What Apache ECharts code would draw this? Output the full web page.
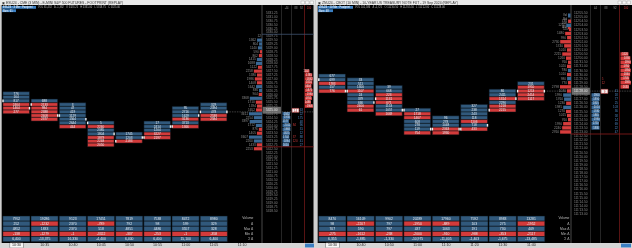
<!DOCTYPE html>
<html><head><meta charset="utf-8">
<style>html,body{margin:0;padding:0;background:#cfcfcf;}#c{width:632px;height:248px;}</style>
<script src="https://cdn.jsdelivr.net/npm/echarts@6/dist/echarts.min.js"></script>
</head><body><div id="c"></div>
<script>
// ---------------- LEFT PANEL DATA ----------------
const L_fpStart = [0, 2, 3, 8, 11, 8, 4, 3];
const L_fpVals = [[776,164,817,2464,1464,277],[688,2133,984,2388,2408,2377],[3,47,419,1129,1564,2644,444],[5,2240,2385,1804,1879,2248,2050],[1745,1203,2183],[17,2414,1204,3227,2197],[95,2716,1629,3136,3713,1366],[329,2394,478,2538,2584]];
const L_fpSide = ['bbbrrr','brrrrr','bbbbbbr','brbbrrr','bbr','bbbrr','bbbrbr','bbbrr'];
const L_open = [2, 3, 6, 8, 13, 12, 9, 5];
const L_close = [4, 6, 7, 11, 12, 9, 6, 5];
const L_times = ['10:30','10:35','10:40','10:45','10:50','10:55','11:00','11:05','11:10'];
const L_tblVolume = [7952, 19286, 9123, 17451, 7819, 7538, 8472, 8980];
const L_tblDelta = [252, -1232, 2370, -789, 792, 98, 599, 329];
const L_tblMaxD = [4852, 1833, 2370, 518, 4851, 4486, 3557, 328];
const L_tblMinD = [-138, -1279, -1, -3322, -337, -253, -1, -358];
const L_tblCum = [6400, -13375, 16330, -4400, 6400, 6400, 15100, 6400];
const L_prices = ['5331.25','5331.00','5330.75','5330.50','5330.25','5330.00','5329.75','5329.50','5329.25','5329.00','5328.75','5328.50','5328.25','5328.00','5327.75','5327.50','5327.25','5327.00','5326.75','5326.50','5326.25','5326.00','5325.75','5325.50','5325.25','5325.00','5324.75','5324.50','5324.25','5324.00','5323.75','5323.50','5323.25','5323.00','5322.75','5322.50','5322.25','5322.00','5321.75','5321.50','5321.25','5321.00','5320.75','5320.50','5320.25','5320.00','5319.75','5319.50','5319.25','5319.00','5318.75','5318.50'];
const L_curRow = 25;
const L_profStart = 6;
const L_profVol = [12,1362,804,1140,590,862,1415,1688,1122,2258,1380,1986,1408,1642,836,904,3368,1710,1394,1652,3611,2254,3397,1712,876,1405,3607,2260,1433,2253];
const L_profSide = 'bbbbrrbbrrrrrbbrbrrrbbbbrrbbrr';
const L_bidStart = 26;
const L_bidVol = [1842,1930,1577,2011,1968,1825,1702,1894,1650];
const L_askStart = 15;
const L_askVol = [1102,1785,1932,1810,1604,1875,1990,1701,1488,1966];
const L_blueNumStart = 25;
const L_blueNums = [63,22,175,48,96,31,12,88,41,27];
const L_redNumRows = [29,32,33];
const L_redNums = [84,37,120];
const L_lastSize = 14;
const L_hiRow = 6, L_loRow = 34;

// ---------------- RIGHT PANEL DATA ----------------
const R_fpStart = [0, 1, 3, 9, 11, 8, 4, 2];
const R_fpVals = [[677,699,1783,157,776],[33,511,1300,1107,24,379,666,2400,61],[39,668,223,1131,671,1153,1057,1669],[27,1718,1467,608,278,119,754],[96,278,1048,2363,1930],[327,238,243,118,1106,718,433],[86,2411,1314,2296,1218,2215],[231,1910,1213,2414,1117]];
const R_fpSide = ['bbrbr','bbbrbbbrr','bbrrrbbr','brrbbbr','bbbrr','bbbbrbr','bbrbrr','brrrr'];
const R_open = [1, 4, 6, 9, 14, 14, 9, 4];
const R_close = [4, 7, 9, 14, 14, 13, 6, 4];
const R_times = ['10:30','10:40','10:50','11:00','11:10','11:20','11:30','11:40',''];
const R_tblVolume = [8470, 16109, 9902, 20289, 17960, 7592, 8983, 13281];
const R_tblDelta = [98, -2207, 797, -1950, -889, 103, 275, -1952];
const R_tblMaxD = [707, 590, 797, 437, 1063, 191, 730, 409];
const R_tblMinD = [-275, -1612, -238, -2000, -910, -988, -353, -2117];
const R_tblCum = [6355, -1885, -1330, -10975, -11405, -1403, -1675, -13485];
const R_prices = ["112'05.50","112'05.00","112'04.50","112'04.00","112'03.50","112'03.00","112'02.50","112'02.00","112'01.50","112'01.00","112'00.50","112'00.00","111'31.50","111'31.00","111'30.50","111'30.00","111'29.50","111'29.00","111'28.50","111'28.00","111'27.50","111'27.00","111'26.50","111'26.00","111'25.50","111'25.00","111'24.50","111'24.00","111'23.50","111'23.00","111'22.50","111'22.00","111'21.50","111'21.00","111'20.50","111'20.00","111'19.50","111'19.00","111'18.50","111'18.00","111'17.50","111'17.00","111'16.50","111'16.00","111'15.50","111'15.00","111'14.50","111'14.00","111'13.50","111'13.00"];
const R_curRow = 19;
const R_profStart = 2;
const R_profVol = [740,1210,520,1480,990,2730,1740,1010,2215,1260,760,1020,780,1010,980,770,2798,1030,1990,1760,1230,1985,1270,1015,760,1990,2240,2760];
const R_profSide = 'rbrrrrrrrrrrbrbrrrbbrbrrrrrr';
const R_bidStart = 20;
const R_bidVol = [1960,1890,1805,2010,1930,1865,1990,1740,1880];
const R_askStart = 10;
const R_askVol = [1520,1880,1990,1760,1950,1840,1705,1985,1630];
const R_blueNumStart = 19;
const R_blueNums = [41,18,77,25,103,36,58,14,69,22,47];
const R_redNumRows = [17,16];
const R_redNums = [12,5];
const R_lastSize = 9;
const R_hiRow = null, R_loRow = 29;

const TBL_ROWS = ['Volume','Δ','Max Δ','Min Δ','Σ Δ'];

// ---------------- BUILD ----------------
const BLUE = '#31597c', RED = '#d33b3b', PBLUE = '#3a6894', PRED = '#d63c3c';
const FONT = 'Liberation Sans';
const grids = [], xAxes = [], yAxes = [], series = [];
function addGrid(rect, xa, ya) {
  const gi = grids.length;
  grids.push(Object.assign({show:false, outerBoundsMode:'none'}, rect));
  xAxes.push(Object.assign({gridIndex:gi, show:false}, xa));
  yAxes.push(Object.assign({gridIndex:gi, show:false}, ya));
  return gi;
}
function txt(t, x, y, fill, size, align) {
  return {type:'text', style:{text:t, x:x, y:y, fill:fill, fontSize:size, fontFamily:FONT, align:align||'left', verticalAlign:'middle', textAlign:align||'left', textVerticalAlign:'middle'}};
}

function panel(P, G) {
  // footprint
  const fpData = [];
  P.fpVals.forEach((col, c) => col.forEach((v, k) => fpData.push([c, P.fpStart[c] + k, v, P.fpSide[c][k] === 'r' ? 1 : 0])));
  const gF = addGrid({left:G.left, top:G.fpTop, width:9*G.colW, height:16*G.fpRowH},
    {type:'value', min:0, max:9}, {type:'value', min:0, max:16, inverse:true});
  series.push({type:'custom', xAxisIndex:gF, yAxisIndex:gF, data:fpData, encode:{x:0, y:1}, z:3,
    renderItem:(params, api) => {
      const c = api.value(0), r = api.value(1), v = api.value(2), s = api.value(3);
      const a = api.coord([c, r]), b = api.coord([c + 1, r + 1]);
      const x = a[0] + 0.4, w = b[0] - a[0] - 1.6, y = a[1], h = b[1] - a[1];
      return {type:'group', children:[
        {type:'rect', shape:{x:x, y:y, width:w, height:h}, style:{fill: s ? RED : BLUE, stroke:'#0b1117', lineWidth:0.5}},
        {type:'text', style:{text:String(v), x:x + w/2, y:y + h/2 + 0.2, fill:'#e6ecf2', fontSize:3.1, fontFamily:FONT, align:'center', verticalAlign:'middle'}}
      ]};
    }});
  const mk = [];
  P.open.forEach((r, c) => mk.push([c, r, 0]));
  P.close.forEach((r, c) => mk.push([c, r, 1]));
  series.push({type:'custom', xAxisIndex:gF, yAxisIndex:gF, data:mk, encode:{x:0, y:1}, z:4,
    renderItem:(params, api) => {
      const c = api.value(0), r = api.value(1), side = api.value(2);
      const a = api.coord([c, r]), b = api.coord([c + 1, r + 1]);
      const h = (b[1] - a[1]) * 0.7;
      const x = side ? b[0] - 1.9 : a[0] - 0.2;
      return {type:'rect', shape:{x:x, y:(a[1] + b[1]) / 2 - h/2, width:1.4, height:h}, style:{fill:'#eeeeee'}};
    }});
  const last = P.fpVals.length;
  series.push({type:'custom', xAxisIndex:gF, yAxisIndex:gF, data:[[last, P.close[last - 1]]], encode:{x:0, y:1}, z:2,
    renderItem:(params, api) => {
      const a = api.coord([api.value(0), api.value(1) + 0.5]);
      return {type:'line', shape:{x1:a[0] - 1.2, y1:a[1], x2:G.lineEnd, y2:a[1]}, style:{stroke:'#6a6a6a', lineWidth:0.6, lineDash:[1.5, 1]}};
    }});

  // table
  const tRows = [P.tblVolume, P.tblDelta, P.tblMaxD, P.tblMinD, P.tblCum];
  const tData = [];
  tRows.forEach((row, r) => row.forEach((v, c) => tData.push([c, r, v])));
  const gT = addGrid({left:G.left, top:216, width:9*G.colW, height:25.7},
    {type:'category', data:P.times, show:true, z:5, axisLine:{show:false}, axisTick:{show:false},
      axisLabel:{interval:0, margin:1.4, color:'#2a2a2a', fontSize:3.6, fontFamily:FONT,
        formatter:(v, i) => i === 0 ? '{hl|' + v + '}' : v,
        rich:{hl:{backgroundColor:'#f7f7f7', borderColor:'#6f6f6f', borderWidth:0.5, padding:[0.3, 2], fontSize:3.6, color:'#222', fontFamily:FONT}}}},
    {type:'category', data:TBL_ROWS, inverse:true, show:true, position:'right', z:5, axisLine:{show:false}, axisTick:{show:false},
      axisLabel:{inside:true, interval:0, hideOverlap:false, margin:G.tblLabelMargin, color:'#bdbdbd', fontSize:3.3, fontFamily:FONT}});
  series.push({type:'custom', xAxisIndex:gT, yAxisIndex:gT, data:tData, encode:{x:0, y:1}, z:3,
    renderItem:(params, api) => {
      const c = api.value(0), r = api.value(1), v = api.value(2);
      const p = api.coord([c, r]), sz = api.size([1, 1]);
      const x = p[0] - sz[0]/2 + 0.3, w = sz[0] - 1.0, y = p[1] - sz[1]/2, h = sz[1];
      const red = (r === 1 || r === 3) && v < 0;
      const t = r === 4 ? v.toLocaleString('en-US') : String(v);
      return {type:'group', children:[
        {type:'rect', shape:{x:x, y:y, width:w, height:h}, style:{fill: red ? RED : BLUE, stroke:'#0b1117', lineWidth:0.5}},
        {type:'text', style:{text:t, x:x + w/2, y:y + h/2 + 0.2, fill:'#e6ecf2', fontSize:3.4, fontFamily:FONT, align:'center', verticalAlign:'middle'}}
      ]};
    }});

  // DOM
  const n = P.prices.length;
  const domTop = 11, domH = n * G.rowH;
  const yCat = {type:'category', data:P.prices, inverse:true};
  // profile
  const gP = addGrid({left:G.domX - 30, top:domTop, width:30, height:domH}, {type:'value', min:0, max:G.profMax, inverse:true}, yCat);
  const prof = P.prices.map(() => '-');
  P.profVol.forEach((v, k) => { prof[P.profStart + k] = {value:v, itemStyle:{color: P.profSide[k] === 'r' ? PRED : PBLUE}}; });
  series.push({type:'bar', xAxisIndex:gP, yAxisIndex:gP, data:prof, barWidth:G.rowH - 0.7, z:3,
    label:{show:true, position:'left', distance:1, fontSize:3.2, color:'#8d8d8d', fontFamily:FONT}});
  // ladder
  const gL = addGrid({left:G.domX, top:domTop, width:19.5, height:domH}, {type:'value', min:0, max:1}, yCat);
  series.push({type:'custom', xAxisIndex:gL, yAxisIndex:gL, data:P.prices.map((p, i) => [0.5, i]), encode:{x:0, y:1}, z:3,
    renderItem:(params, api) => {
      const i = params.dataIndex;
      const p = api.coord([0.5, i]), h = api.size([0, 1])[1], cs = params.coordSys;
      const ch = [];
      if (i === P.curRow) ch.push({type:'rect', shape:{x:cs.x + 0.8, y:p[1] - h/2 - 1.2, width:cs.width - 1.4, height:h + 3}, style:{fill:'#6b6b6b'}});
      ch.push({type:'text', style:{text:P.prices[i], x:p[0], y:p[1] + 0.2, fill: i === P.curRow ? '#e8e8e8' : '#8e8e8e', fontSize:3.2, fontFamily:FONT, align:'center', verticalAlign:'middle'}});
      return {type:'group', children:ch};
    }});
  // bid
  const gB = addGrid({left:G.domX + 20.5, top:domTop, width:G.bidW, height:domH}, {type:'value', min:0, max:2100}, yCat);
  const bid = P.prices.map(() => '-');
  P.bidVol.forEach((v, k) => { bid[P.bidStart + k] = v; });
  series.push({type:'bar', xAxisIndex:gB, yAxisIndex:gB, data:bid, barWidth:G.rowH - 0.5, itemStyle:{color:'#3a6a98'}, z:3,
    label:{show:true, position:'insideRight', distance:0.5, fontSize:2.6, color:'#cfe0f0', fontFamily:FONT}});
  // numbers
  const gN = addGrid({left:G.numX, top:domTop, width:G.numW, height:domH}, {type:'value', min:0, max:1}, yCat);
  const nd = [];
  P.blueNums.forEach((v, k) => nd.push([0, P.blueNumStart + k, v, 0]));
  P.redNumRows.forEach((r, k) => nd.push([0, r, P.redNums[k], 1]));
  nd.push([0, P.curRow, P.lastSize, 2]);
  series.push({type:'custom', xAxisIndex:gN, yAxisIndex:gN, data:nd, encode:{x:0, y:1}, z:3,
    renderItem:(params, api) => {
      const r = api.value(1), v = api.value(2), k = api.value(3), cs = params.coordSys;
      const p = api.coord([0, r]), h = api.size([0, 1])[1];
      if (k === 0) return {type:'text', style:{text:String(v), x:cs.x + cs.width - 1.5, y:p[1] + 0.2, fill:'#4f86c0', fontSize:3, fontFamily:FONT, align:'right', verticalAlign:'middle'}};
      if (k === 1) return {type:'text', style:{text:String(v), x:cs.x + 1.2, y:p[1] + 0.2, fill:'#c83a3a', fontSize:3, fontFamily:FONT, align:'left', verticalAlign:'middle'}};
      return {type:'group', children:[
        {type:'rect', shape:{x:cs.x + 0.6, y:p[1] - h/2 + 0.4, width:6.8, height:h}, style:{fill:'#f2f2f2', stroke:'#d33b3b', lineWidth:0.5}},
        {type:'text', style:{text:String(v), x:cs.x + 4, y:p[1] + 0.9, fill:'#c62f2f', fontSize:3, fontFamily:FONT, align:'center', verticalAlign:'middle'}}]};
    }});
  // ask
  const gA = addGrid({left:G.askX, top:domTop, width:G.askW, height:domH}, {type:'value', min:0, max:2100}, yCat);
  const ask = P.prices.map(() => '-');
  P.askVol.forEach((v, k) => { ask[P.askStart + k] = v; });
  series.push({type:'bar', xAxisIndex:gA, yAxisIndex:gA, data:ask, barWidth:G.rowH - 0.5, itemStyle:{color:PRED}, z:3,
    label:{show:true, position:'insideRight', distance:0.5, fontSize:2.6, color:'#fbe3e3', fontFamily:FONT}});
  // hi/lo lines
  const gO = addGrid({left:G.domX, top:domTop, width:G.panelRight - G.domX, height:domH}, {type:'value', min:0, max:1}, yCat);
  const od = [];
  if (P.hiRow !== null) od.push([0, P.hiRow, 0]);
  if (P.loRow !== null) od.push([0, P.loRow, 1]);
  series.push({type:'custom', xAxisIndex:gO, yAxisIndex:gO, data:od, encode:{x:0, y:1}, z:4,
    renderItem:(params, api) => {
      const r = api.value(1), k = api.value(2), cs = params.coordSys;
      const p = api.coord([0, r]), h = api.size([0, 1])[1];
      const y = k ? p[1] + h/2 : p[1] - h/2;
      return {type:'line', shape:{x1:cs.x, y1:y, x2:cs.x + cs.width, y2:y}, style:{stroke: k ? '#8e1c1c' : '#3f5270', lineWidth:0.8}};
    }});
}

panel({fpStart:L_fpStart, fpVals:L_fpVals, fpSide:L_fpSide, open:L_open, close:L_close, times:L_times,
  tblVolume:L_tblVolume, tblDelta:L_tblDelta, tblMaxD:L_tblMaxD, tblMinD:L_tblMinD, tblCum:L_tblCum,
  prices:L_prices, curRow:L_curRow, profStart:L_profStart, profVol:L_profVol, profSide:L_profSide,
  bidStart:L_bidStart, bidVol:L_bidVol, askStart:L_askStart, askVol:L_askVol,
  blueNumStart:L_blueNumStart, blueNums:L_blueNums, redNumRows:L_redNumRows, redNums:L_redNums, lastSize:L_lastSize,
  hiRow:L_hiRow, loRow:L_loRow},
  {left:2.5, colW:28.2, fpTop:91.7, fpRowH:3.67, lineEnd:313.5, tblLabelMargin:3, rowH:3.88, domX:262, profMax:8300,
   bidW:8.5, numX:291.5, numW:13, askX:305, askW:8.5, panelRight:313.5});

panel({fpStart:R_fpStart, fpVals:R_fpVals, fpSide:R_fpSide, open:R_open, close:R_close, times:R_times,
  tblVolume:R_tblVolume, tblDelta:R_tblDelta, tblMaxD:R_tblMaxD, tblMinD:R_tblMinD, tblCum:R_tblCum,
  prices:R_prices, curRow:R_curRow, profStart:R_profStart, profVol:R_profVol, profSide:R_profSide,
  bidStart:R_bidStart, bidVol:R_bidVol, askStart:R_askStart, askVol:R_askVol,
  blueNumStart:R_blueNumStart, blueNums:R_blueNums, redNumRows:R_redNumRows, redNums:R_redNums, lastSize:R_lastSize,
  hiRow:R_hiRow, loRow:R_loRow},
  {left:318.3, colW:28.4, fpTop:74, fpRowH:3.8, lineEnd:632, tblLabelMargin:4.5, rowH:4.1, domX:571, profMax:7600,
   bidW:9, numX:600.5, numW:19, askX:620.5, askW:11, panelRight:632});

// ---------------- CHROME ----------------
function vline(x, c) { return {type:'line', shape:{x1:x, y1:5, x2:x, y2:243}, style:{stroke:c, lineWidth:0.8}}; }
const graphic = [
  {type:'rect', shape:{x:2, y:5, width:311.5, height:238}, style:{fill:'#000'}},
  {type:'rect', shape:{x:318, y:5, width:314, height:238}, style:{fill:'#000'}},
  {type:'line', shape:{x1:1.5, y1:5, x2:1.5, y2:243}, style:{stroke:'#8c8c8c', lineWidth:1}},
  {type:'line', shape:{x1:317.5, y1:5, x2:317.5, y2:243}, style:{stroke:'#8c8c8c', lineWidth:1}},
  {type:'rect', shape:{x:0, y:0, width:315, height:5}, style:{fill:'#e9e9e9'}},
  {type:'rect', shape:{x:316, y:0, width:316, height:5}, style:{fill:'#e9e9e9'}},
  txt('▣ ESU24 - CME (3 MIN) - E-MINI S&P 500 FUTURES - FOOTPRINT (REPLAY)', 2, 2.6, '#333', 3.4),
  txt('▣ ZNU24 - CBOT (10 MIN) - 10-YEAR US TREASURY NOTE FUT - 19 Sep 2024 (REPLAY)', 318, 2.6, '#333', 3.4),
  {type:'rect', shape:{x:301, y:1, width:3.5, height:3}, style:{fill:'#f8f8f8', stroke:'#999', lineWidth:0.4}},
  {type:'rect', shape:{x:305.5, y:1, width:3.5, height:3}, style:{fill:'#f8f8f8', stroke:'#999', lineWidth:0.4}},
  {type:'rect', shape:{x:310, y:1, width:3.5, height:3}, style:{fill:'#f8f8f8', stroke:'#999', lineWidth:0.4}},
  {type:'rect', shape:{x:618, y:1, width:3.5, height:3}, style:{fill:'#f8f8f8', stroke:'#999', lineWidth:0.4}},
  {type:'rect', shape:{x:622.5, y:1, width:3.5, height:3}, style:{fill:'#f8f8f8', stroke:'#999', lineWidth:0.4}},
  {type:'rect', shape:{x:627, y:1, width:3.5, height:3}, style:{fill:'#f8f8f8', stroke:'#999', lineWidth:0.4}},
  {type:'rect', shape:{x:2, y:6, width:34, height:2.8}, style:{fill:'#3b7fc2'}},
  txt('ESU24 · 3 Min · Footprint', 3, 7.5, '#fff', 2.6),
  txt('VOL 61,432   Δ -1,382   O 5323.25   H 5331.00   L 5318.75   C 5325.00', 38, 7.5, '#bbb', 2.6),
  {type:'rect', shape:{x:2, y:9.3, width:14, height:2.8}, style:{fill:'#3b7fc2'}},
  txt('Bars: 61', 3, 10.8, '#fff', 2.6),
  {type:'rect', shape:{x:318, y:6, width:35, height:2.8}, style:{fill:'#3b7fc2'}},
  txt('ZNU24 · 10 Min · Footprint', 319, 7.5, '#fff', 2.6),
  txt('VOL 102,586   Δ -5,725   O 111\'30.50   H 112\'05.50   L 111\'22.00   C 111\'28.00', 355, 7.5, '#bbb', 2.6),
  {type:'rect', shape:{x:318, y:9.3, width:15, height:2.8}, style:{fill:'#3b7fc2'}},
  txt('Bars: 48', 319, 10.8, '#fff', 2.6),
  vline(262, '#5a5a5a'), vline(281.5, '#2e2e2e'), vline(291.5, '#2e2e2e'), vline(304.5, '#6e1818'),
  vline(571, '#5a5a5a'), vline(590.5, '#2e2e2e'), vline(600.5, '#2e2e2e'), vline(619.5, '#6e1818'),
  txt('-44', 286.5, 8, '#9a9a9a', 2.6, 'center'), txt('88', 296, 8, '#9a9a9a', 2.6, 'center'),
  txt('92', 301.5, 8, '#9a9a9a', 2.6, 'center'), txt('100', 309, 8, '#d04040', 2.6, 'center'),
  txt('44', 595.5, 8, '#9a9a9a', 2.6, 'center'), txt('88', 606, 8, '#9a9a9a', 2.6, 'center'),
  txt('92', 615, 8, '#9a9a9a', 2.6, 'center'), txt('100', 626, 8, '#d04040', 2.6, 'center'),
  txt('Vol', 567, 15.5, '#9a9a9a', 2.8, 'right'), txt('Bid', 567, 19.5, '#9a9a9a', 2.8, 'right'),
  txt('Last', 567, 23.3, '#9a9a9a', 2.8, 'right'), txt('Ask', 567, 27.3, '#9a9a9a', 2.8, 'right'),
  {type:'rect', shape:{x:568, y:13.5, width:2.5, height:4}, style:{fill:'#3a6894'}},
  {type:'rect', shape:{x:568, y:25.3, width:2.5, height:4}, style:{fill:'#d63c3c'}},
  {type:'rect', shape:{x:0, y:243, width:316, height:5}, style:{fill:'#d6d6d6'}},
  {type:'rect', shape:{x:316, y:243, width:316, height:5}, style:{fill:'#d6d6d6'}},
  {type:'rect', shape:{x:305, y:243.6, width:9, height:3.8}, style:{fill:'#3b7fc2'}},
  {type:'rect', shape:{x:621, y:243.6, width:10, height:3.8}, style:{fill:'#3b7fc2'}}
];

const chart = echarts.init(document.getElementById('c'), null, {renderer:'canvas', width:632, height:248});
chart.setOption({
  backgroundColor:'#cfcfcf', animation:false,
  textStyle:{fontFamily:FONT},
  graphic:graphic, grid:grids, xAxis:xAxes, yAxis:yAxes, series:series
});
</script></body></html>
